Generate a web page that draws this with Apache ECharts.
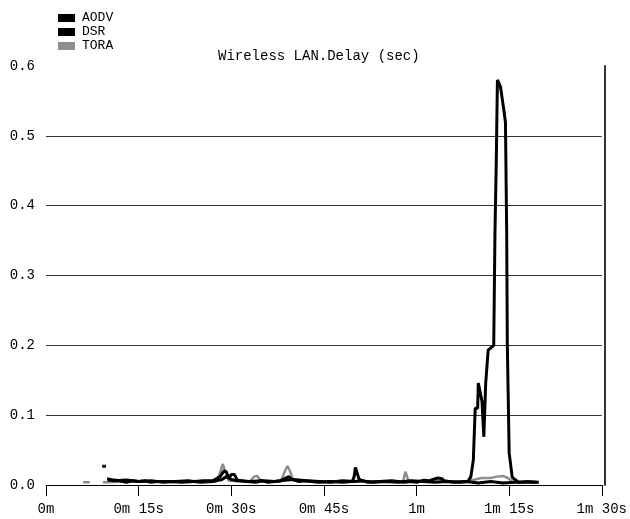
<!DOCTYPE html>
<html>
<head>
<meta charset="utf-8">
<script src="https://cdn.jsdelivr.net/npm/echarts@6/dist/echarts.min.js"></script>
<style>html,body{margin:0;padding:0;background:#fff}#c{width:630px;height:519px}</style>
</head>
<body>
<div id="c"></div>
<script>
// ---- data (time in seconds, delay in seconds) ----
var titleText = 'Wireless LAN.Delay (sec)';
var seriesNames = ['AODV', 'DSR', 'TORA'];
var xTicks = [0, 15, 30, 45, 60, 75, 90];
var xTickLabels = ['0m', '0m 15s', '0m 30s', '0m 45s', '1m', '1m 15s', '1m 30s'];
var yTickLabels = ['0.0', '0.1', '0.2', '0.3', '0.4', '0.5', '0.6'];

var aodvT = [9.1, 9.7, 9.8, 9.9, 10.2, 11, 12, 13, 14, 15, 16, 17, 18, 20, 22, 24, 25.5, 27, 28.2, 28.8, 29.2, 29.6, 30.0, 30.5, 31.0, 32.5, 34, 35, 36, 38, 38.8, 39.3, 39.8, 41, 42, 44, 46, 48, 49.6, 49.9, 50.1, 50.4, 50.7, 52, 54, 56, 58, 59, 60, 61.2, 62, 63, 63.5, 64.1, 64.5, 66, 68, 70, 72, 74, 76, 78, 79.8];
var aodvV = [0.027, 0.027, null, 0.009, 0.008, 0.007, 0.006, 0.004, 0.006, 0.005, 0.006, 0.004, 0.005, 0.005, 0.004, 0.005, 0.006, 0.006, 0.012, 0.02, 0.019, 0.01, 0.015, 0.015, 0.007, 0.005, 0.004, 0.006, 0.004, 0.006, 0.01, 0.012, 0.008, 0.005, 0.006, 0.004, 0.005, 0.004, 0.005, 0.012, 0.025, 0.025, 0.008, 0.004, 0.005, 0.006, 0.004, 0.005, 0.004, 0.007, 0.006, 0.009, 0.01, 0.009, 0.006, 0.004, 0.005, 0.003, 0.005, 0.003, 0.004, 0.004, 0.004];

var dsrT = [10.0, 11, 13, 15, 17, 19, 21, 23, 25, 27, 28.5, 29.2, 30, 31, 33, 35, 37, 39, 40, 42, 44, 46, 48, 50, 51, 53, 55, 57, 59, 61, 63, 65, 67, 68.3, 68.8, 69.2, 69.5, 69.9, 70.0, 70.3, 70.6, 70.9, 71.2, 71.6, 72.5, 72.7, 72.9, 73.1, 73.6, 74.2, 74.4, 74.6, 74.7, 75.0, 75.5, 76.5, 78, 79.5];
var dsrV = [0.007, 0.006, 0.007, 0.005, 0.006, 0.004, 0.005, 0.006, 0.004, 0.005, 0.008, 0.012, 0.008, 0.006, 0.005, 0.006, 0.005, 0.007, 0.008, 0.006, 0.005, 0.004, 0.006, 0.005, 0.006, 0.004, 0.005, 0.004, 0.006, 0.005, 0.004, 0.005, 0.004, 0.005, 0.012, 0.036, 0.11, 0.11, 0.146, 0.146, 0.12, 0.069, 0.146, 0.193, 0.2, 0.361, 0.456, 0.58, 0.57, 0.533, 0.519, 0.361, 0.203, 0.046, 0.011, 0.004, 0.005, 0.004];

var toraT = [6.0, 7.1, 7.3, 9.2, 9.8, 10.0, 14, 20, 27.5, 28.1, 28.6, 29.1, 29.6, 33.0, 33.7, 34.2, 34.8, 38.0, 38.7, 39.1, 39.5, 40.0, 45, 50, 57.8, 58.2, 58.7, 63, 68, 69.5, 70.5, 72, 73, 74, 74.8, 75.5];
var toraV = [0.004, 0.004, null, 0.004, 0.004, 0.005, 0.005, 0.005, 0.005, 0.015, 0.030, 0.018, 0.006, 0.005, 0.012, 0.013, 0.006, 0.005, 0.02, 0.027, 0.02, 0.008, 0.005, 0.005, 0.005, 0.019, 0.006, 0.005, 0.005, 0.008, 0.01, 0.01, 0.012, 0.013, 0.01, 0.005];

function pairs(t, v) {
  return t.map(function (x, i) { return [x, v[i]]; });
}

var chart = echarts.init(document.getElementById('c'), null, { renderer: 'canvas' });
var mono = '"Liberation Mono", "DejaVu Sans Mono", monospace';

function fmtX(val) {
  var i = xTicks.indexOf(val);
  return i >= 0 ? xTickLabels[i] : '';
}

chart.setOption({
  animation: false,
  backgroundColor: '#ffffff',
  title: {
    text: titleText,
    left: 213,
    top: 44,
    textStyle: { fontFamily: mono, fontSize: 14, fontWeight: 'normal', color: '#000' }
  },
  legend: {
    orient: 'vertical',
    left: 53,
    top: 6,
    itemWidth: 17,
    itemHeight: 8,
    itemGap: 0,
    icon: 'rect',
    data: seriesNames,
    textStyle: { fontFamily: mono, fontSize: 13, color: '#000', lineHeight: 14, padding: [0, 0, 0, 2] }
  },
  grid: { left: 46, right: 27, top: 66, bottom: 34, containLabel: false },
  xAxis: {
    type: 'value',
    min: 0,
    max: 90,
    interval: 15,
    axisLine: { show: true, lineStyle: { color: '#000', width: 1 } },
    axisTick: { show: true, inside: false, length: 11, lineStyle: { color: '#000', width: 1 } },
    axisLabel: { margin: 17, fontFamily: mono, fontSize: 14, color: '#000', formatter: fmtX, showMaxLabel: true, showMinLabel: true },
    splitLine: { show: false }
  },
  yAxis: [{
    type: 'value',
    min: 0,
    max: 0.6,
    interval: 0.1,
    axisLine: { show: false },
    axisTick: { show: false },
    axisLabel: {
      margin: 11, fontFamily: mono, fontSize: 14, color: '#000',
      formatter: function (v) { return yTickLabels[Math.round(v * 10)]; }
    },
    splitLine: { show: true, lineStyle: { color: ['rgba(0,0,0,0)', '#333', '#333', '#333', '#333', '#333', 'rgba(0,0,0,0)'], width: 1 } }
  }, {
    type: 'value',
    position: 'right',
    offset: 3,
    min: 0,
    max: 0.6,
    interval: 0.1,
    axisLine: { show: true, lineStyle: { color: '#333', width: 2 } },
    axisTick: { show: false },
    axisLabel: { show: false },
    splitLine: { show: false }
  }],
  series: [
    {
      name: seriesNames[0], type: 'line', data: pairs(aodvT, aodvV),
      showSymbol: false, symbol: 'none', connectNulls: false,
      itemStyle: { color: '#000' }, lineStyle: { color: '#000', width: 3 }, z: 4
    },
    {
      name: seriesNames[1], type: 'line', data: pairs(dsrT, dsrV),
      showSymbol: false, symbol: 'none', connectNulls: false,
      itemStyle: { color: '#000' }, lineStyle: { color: '#000', width: 3 }, z: 5
    },
    {
      name: seriesNames[2], type: 'line', data: pairs(toraT, toraV),
      showSymbol: false, symbol: 'none', connectNulls: false,
      itemStyle: { color: '#8e8e8e' }, lineStyle: { color: '#8e8e8e', width: 2.5 }, z: 3
    }
  ]
});
</script>
</body>
</html>
